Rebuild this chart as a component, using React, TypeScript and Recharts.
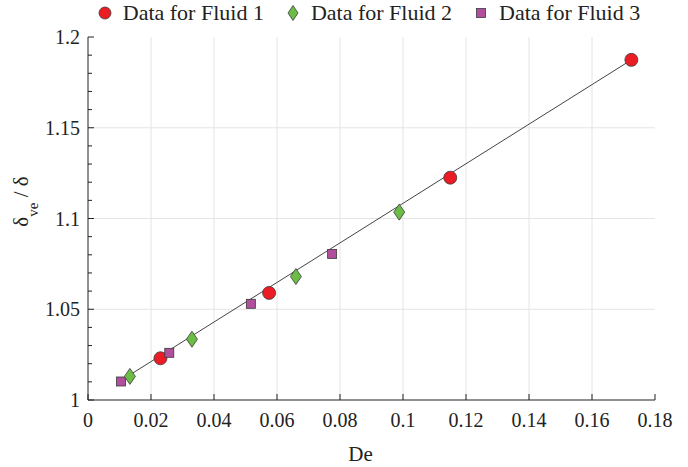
import React from 'react';
import { ScatterChart, Scatter, XAxis, YAxis, ReferenceLine } from 'recharts';

// values
const fluid1X = [0.023, 0.0575, 0.115, 0.1725];
const fluid1Y = [1.023, 1.059, 1.1225, 1.1874];
const fluid2X = [0.0133, 0.033, 0.066, 0.0988];
const fluid2Y = [1.013, 1.0335, 1.068, 1.1035];
const fluid3X = [0.0105, 0.0258, 0.0517, 0.0775];
const fluid3Y = [1.0102, 1.026, 1.053, 1.0805];
const fitX = [0.0105, 0.1725];
const fitY = [1.0108, 1.1874];

const xTicks = [0, 0.02, 0.04, 0.06, 0.08, 0.1, 0.12, 0.14, 0.16, 0.18];
const yTicks = [1, 1.05, 1.1, 1.15, 1.2];
const yMinorTicks = [
  1, 1.01, 1.02, 1.03, 1.04, 1.05, 1.06, 1.07, 1.08, 1.09, 1.1,
  1.11, 1.12, 1.13, 1.14, 1.15, 1.16, 1.17, 1.18, 1.19, 1.2,
];

const seriesNames = ['Data for Fluid 1', 'Data for Fluid 2', 'Data for Fluid 3'];

const zip = (xs: number[], ys: number[]) => xs.map((x, i) => ({ x, y: ys[i] }));
const fluid1 = zip(fluid1X, fluid1Y);
const fluid2 = zip(fluid2X, fluid2Y);
const fluid3 = zip(fluid3X, fluid3Y);
const fit = zip(fitX, fitY);

const FONT = '"Liberation Serif", "Times New Roman", serif';
const RED = '#ec1c24';
const GREEN = '#6cbd45';
const PURPLE = '#b14e9e';
const EDGE = '#3a3a3a';
const AXIS = '#222';

const Circle = ({ cx, cy }: any) => (
  <circle cx={cx} cy={cy} r={6.5} fill={RED} stroke={EDGE} strokeWidth={0.8} />
);
const Diamond = ({ cx, cy }: any) => (
  <path d={`M${cx},${cy - 8}L${cx + 5.5},${cy}L${cx},${cy + 8}L${cx - 5.5},${cy}Z`} fill={GREEN} stroke={EDGE} strokeWidth={0.8} />
);
const Square = ({ cx, cy }: any) => (
  <rect x={cx - 4.5} y={cy - 4.5} width={9} height={9} fill={PURPLE} stroke={EDGE} strokeWidth={0.8} />
);

const fmt = (v: number) => String(v);

const LEFT_M = 8;
const BOTTOM_M = 13;

const LeftTick = ({ x, y, payload }: any) => {
  const major = yTicks.includes(payload.value);
  const ax = x + LEFT_M;
  return (
    <g>
      <line x1={ax} y1={y} x2={ax + (major ? 6 : 4)} y2={y} stroke={AXIS} />
      {major && (
        <text x={x} y={y} dy="0.35em" textAnchor="end" fontSize={20} fontFamily={FONT} fill="#222">
          {fmt(payload.value)}
        </text>
      )}
    </g>
  );
};

const RightTick = ({ x, y, payload }: any) => {
  const major = yTicks.includes(payload.value);
  return <line x1={x} y1={y} x2={x - (major ? 6 : 4)} y2={y} stroke={AXIS} />;
};

const BottomTick = ({ x, y, payload }: any) => {
  const ay = y - BOTTOM_M;
  return (
    <g>
      <line x1={x} y1={ay} x2={x} y2={ay - 6} stroke={AXIS} />
      <text x={x} y={y} dy="0.71em" textAnchor="middle" fontSize={20} fontFamily={FONT} fill="#222">
        {fmt(payload.value)}
      </text>
    </g>
  );
};

const TopTick = ({ x, y }: any) => <line x1={x} y1={y} x2={x} y2={y + 6} stroke={AXIS} />;

const XLabel = ({ viewBox }: any) => (
  <text x={viewBox.x + viewBox.width / 2 - 11} y={viewBox.y + viewBox.height + 21} textAnchor="middle" fontSize={21} fontFamily={FONT} fill="#222">
    De
  </text>
);

const YLabel = ({ viewBox }: any) => {
  const cx = viewBox.x + 20;
  const cy = viewBox.y + viewBox.height / 2 - 17;
  return (
    <text x={cx} y={cy} transform={`rotate(-90 ${cx} ${cy})`} textAnchor="middle" fontSize={21} fontFamily={FONT} fill="#222">
      δ<tspan dy={10} fontSize={15}>ve</tspan>
      <tspan dy={-10}> / δ</tspan>
    </text>
  );
};

const legendItems = [
  { name: seriesNames[0], icon: <circle cx={8} cy={8} r={6} fill={RED} stroke={EDGE} strokeWidth={0.8} /> },
  { name: seriesNames[1], icon: <path d="M8,0.5L13,8L8,15.5L3,8Z" fill={GREEN} stroke={EDGE} strokeWidth={0.8} /> },
  { name: seriesNames[2], icon: <rect x={3.5} y={3.5} width={9} height={9} fill={PURPLE} stroke={EDGE} strokeWidth={0.8} /> },
];

const App: React.FC = () => {
  return (
    <div style={{ position: 'absolute', left: 0, top: 0, width: 688, height: 467, background: '#fff' }}>
      <div
        style={{
          position: 'absolute', left: 0, top: 0, width: 688, height: 26,
          display: 'flex', justifyContent: 'center', alignItems: 'center', gap: 21,
          fontFamily: FONT, fontSize: 22, color: '#222', paddingLeft: 49, boxSizing: 'border-box',
        }}
      >
        {legendItems.map((it) => (
          <div key={it.name} style={{ display: 'flex', alignItems: 'center', whiteSpace: 'nowrap' }}>
            <svg width={16} height={16} style={{ marginRight: 10 }}>{it.icon}</svg>
            <span>{it.name}</span>
          </div>
        ))}
      </div>
      <ScatterChart width={688} height={467} margin={{ top: 37, right: 33, bottom: 27, left: 8 }}>
        <XAxis
          xAxisId="b" type="number" dataKey="x" domain={[0, 0.18]} ticks={xTicks} allowDataOverflow
          orientation="bottom" height={40} tickSize={0} tickMargin={BOTTOM_M} tickLine={false}
          axisLine={{ stroke: AXIS }} tick={<BottomTick />} interval={0} label={<XLabel />}
        />
        <XAxis
          xAxisId="t" type="number" dataKey="x" domain={[0, 0.18]} ticks={xTicks} allowDataOverflow
          orientation="top" height={0} tickSize={0} tickMargin={0} tickLine={false}
          axisLine={{ stroke: AXIS }} tick={<TopTick />} interval={0}
        />
        <YAxis
          yAxisId="l" type="number" dataKey="y" domain={[1, 1.2]} ticks={yMinorTicks} allowDataOverflow
          orientation="left" width={80} tickSize={0} tickMargin={LEFT_M} tickLine={false}
          axisLine={{ stroke: AXIS }} tick={<LeftTick />} interval={0} label={<YLabel />}
        />
        <YAxis
          yAxisId="r" type="number" dataKey="y" domain={[1, 1.2]} ticks={yMinorTicks} allowDataOverflow
          orientation="right" width={0} tickSize={0} tickMargin={0} tickLine={false}
          axisLine={{ stroke: AXIS }} tick={<RightTick />} interval={0}
        />
        {xTicks.slice(1, -1).map((v) => (
          <ReferenceLine key={`gx${v}`} x={v} xAxisId="b" yAxisId="l" stroke="#e4e4e4" strokeWidth={1} />
        ))}
        {yTicks.slice(1, -1).map((v) => (
          <ReferenceLine key={`gy${v}`} y={v} xAxisId="b" yAxisId="l" stroke="#e4e4e4" strokeWidth={1} />
        ))}
        <Scatter
          data={fit} xAxisId="b" yAxisId="l" line={{ stroke: '#444', strokeWidth: 1 }}
          shape={() => <g />} isAnimationActive={false} legendType="none"
        />
        <Scatter name={seriesNames[0]} data={fluid1} xAxisId="b" yAxisId="l" shape={<Circle />} isAnimationActive={false} />
        <Scatter name={seriesNames[2]} data={fluid3} xAxisId="b" yAxisId="l" shape={<Square />} isAnimationActive={false} />
        <Scatter name={seriesNames[1]} data={fluid2} xAxisId="b" yAxisId="l" shape={<Diamond />} isAnimationActive={false} />
      </ScatterChart>
    </div>
  );
};

export default App;
